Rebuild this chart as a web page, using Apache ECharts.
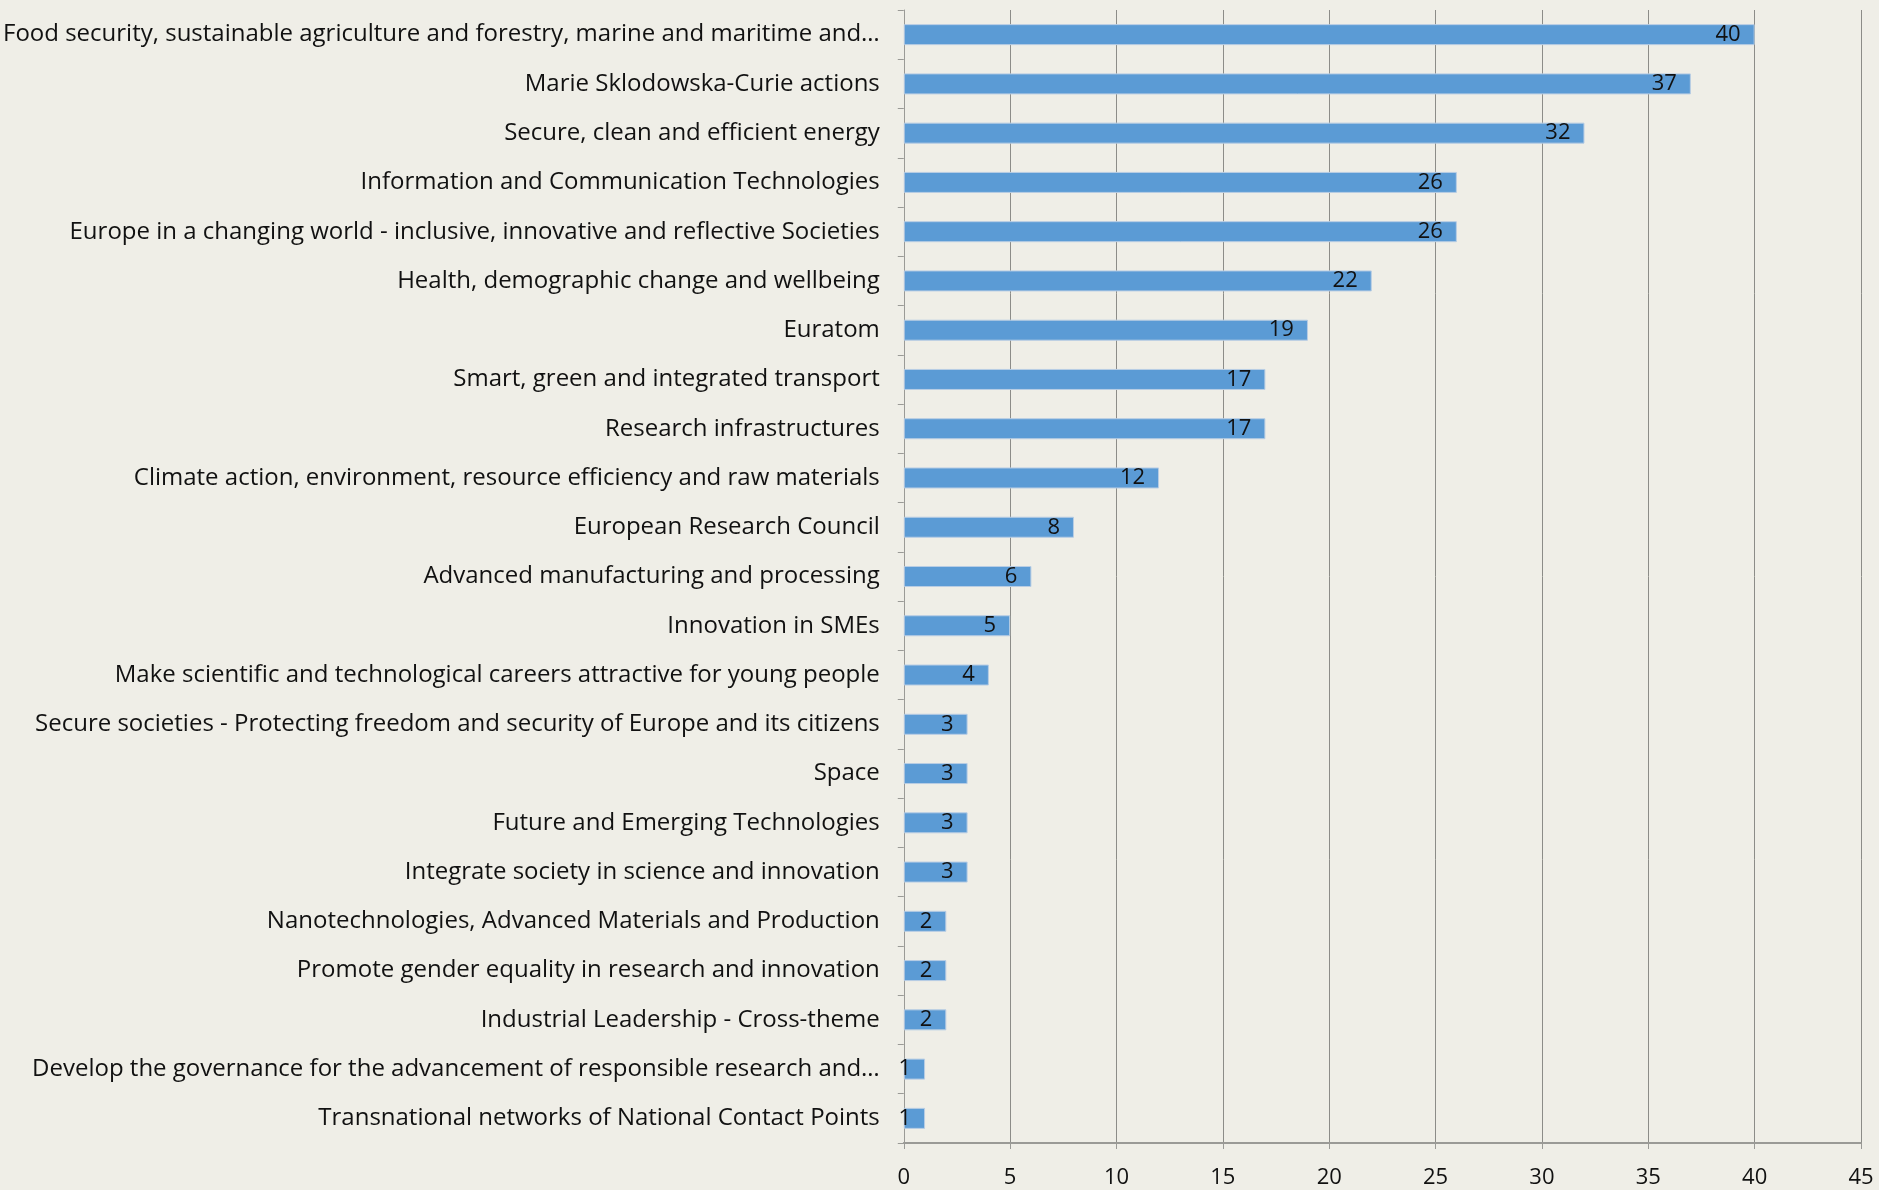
<!DOCTYPE html>
<html>
<head>
<meta charset="utf-8">
<script src="https://cdn.jsdelivr.net/npm/echarts@6/dist/echarts.min.js"></script>
<style>
  html, body { margin: 0; padding: 0; background: #efeee7; }
  #chart { width: 1879px; height: 1190px; }
</style>
</head>
<body>
<div id="chart"></div>
<script>
// categories, top to bottom
const categories = [
  'Food security, sustainable agriculture and forestry, marine and maritime and…',
  'Marie Sklodowska-Curie actions',
  'Secure, clean and efficient energy',
  'Information and Communication Technologies',
  'Europe in a changing world - inclusive, innovative and reflective Societies',
  'Health, demographic change and wellbeing',
  'Euratom',
  'Smart, green and integrated transport',
  'Research infrastructures',
  'Climate action, environment, resource efficiency and raw materials',
  'European Research Council',
  'Advanced manufacturing and processing',
  'Innovation in SMEs',
  'Make scientific and technological careers attractive for young people',
  'Secure societies - Protecting freedom and security of Europe and its citizens',
  'Space',
  'Future and Emerging Technologies',
  'Integrate society in science and innovation',
  'Nanotechnologies, Advanced Materials and Production',
  'Promote gender equality in research and innovation',
  'Industrial Leadership - Cross-theme',
  'Develop the governance for the advancement of responsible research and…',
  'Transnational networks of National Contact Points'
]
const values = [40, 37, 32, 26, 26, 22, 19, 17, 17, 12, 8, 6, 5, 4, 3, 3, 3, 3, 2, 2, 2, 1, 1]

const font = 'Open Sans'
const chart = echarts.init(document.getElementById('chart'))

chart.setOption({
  backgroundColor: '#efeee7',
  animation: false,
  grid: { left: 901, right: 18, top: 10, bottom: 47 },
  xAxis: {
    type: 'value',
    min: 0,
    max: 45,
    interval: 5,
    axisLine: { show: true, lineStyle: { color: '#9a9a96', width: 2 } },
    axisTick: { show: true, length: 6, lineStyle: { color: '#9a9a96' } },
    axisLabel: { color: '#111', fontFamily: font, fontSize: 22, margin: 24 },
    splitLine: { show: true, lineStyle: { color: '#8c8c88', width: 1 } }
  },
  yAxis: {
    type: 'category',
    data: categories,
    inverse: true,
    axisLine: { show: true, lineStyle: { color: '#9a9a96', width: 1 } },
    axisTick: { show: true, length: 6, lineStyle: { color: '#9a9a96' } },
    axisLabel: { color: '#111', fontFamily: font, fontSize: 24, margin: 24 }
  },
  series: [
    {
      type: 'bar',
      data: values,
      barWidth: 21,
      itemStyle: { color: '#5b9bd5', borderColor: '#b8cde4', borderWidth: 1 },
      label: {
        show: true,
        position: 'insideRight',
        distance: 14,
        color: '#111',
        fontFamily: font,
        fontSize: 22
      }
    }
  ]
})
</script>
</body>
</html>
